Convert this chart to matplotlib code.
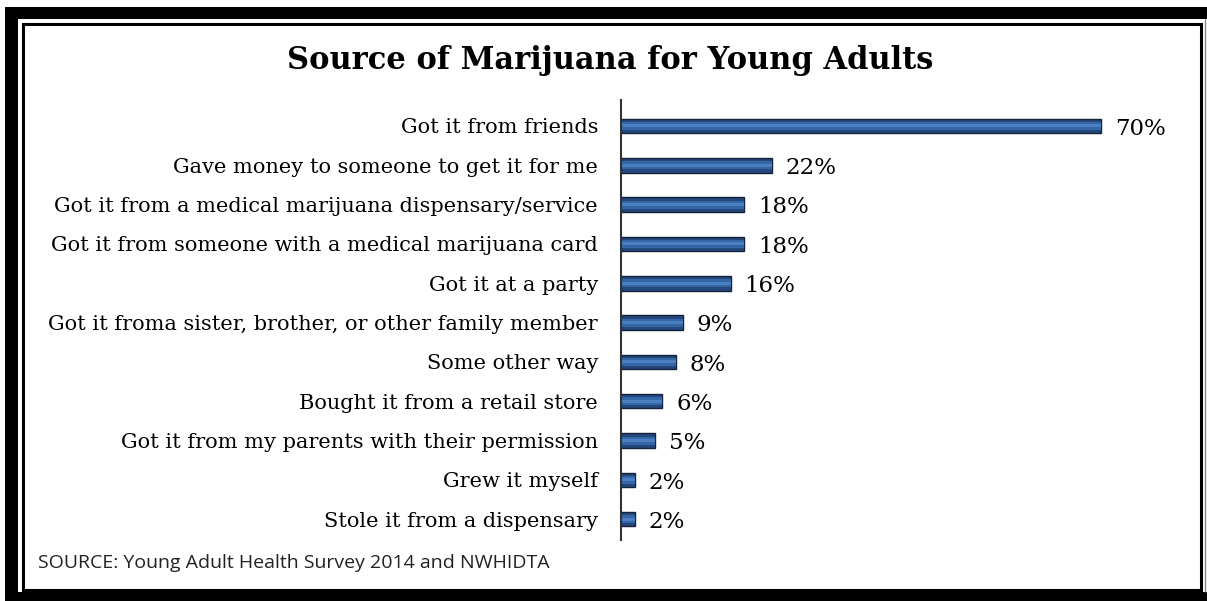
import matplotlib.pyplot as plt
from matplotlib.patches import Rectangle
import numpy as np

# data
sources = [
    "Got it from friends",
    "Gave money to someone to get it for me",
    "Got it from a medical marijuana dispensary/service",
    "Got it from someone with a medical marijuana card",
    "Got it at a party",
    "Got it froma sister, brother, or other family member",
    "Some other way",
    "Bought it from a retail store",
    "Got it from my parents with their permission",
    "Grew it myself",
    "Stole it from a dispensary",
]
percents = [70, 22, 18, 18, 16, 9, 8, 6, 5, 2, 2]

W, H = 1207, 601
fig = plt.figure(figsize=(W / 100, H / 100), dpi=100)


def px_rect(x0, y0, x1, y1, **kw):
    # pixel box (top-down) -> figure fraction rectangle
    return Rectangle((x0 / W, 1 - y1 / H), (x1 - x0) / W, (y1 - y0) / H,
                     transform=fig.transFigure, zorder=-1, **kw)


# double frame
fig.add_artist(px_rect(5, 7, 1207, 601, facecolor="black", edgecolor="none"))
fig.add_artist(px_rect(18, 19, 1207, 592, facecolor="white", edgecolor="none"))
fig.add_artist(px_rect(22.5, 23.5, 1200.5, 589.5, facecolor="none",
                       edgecolor="black", linewidth=2.2))
fig.add_artist(px_rect(1204.5, 19, 1204.5, 592, facecolor="none",
                       edgecolor="#888888", linewidth=1))

ax = fig.add_axes([621 / W, 1 - 540 / H, 526 / W, 440 / H])
ax.patch.set_alpha(0)

y = np.arange(len(sources))
h = 0.37
ax.barh(y, percents, height=h, color="#24477c", edgecolor="#14233d", linewidth=1)
ax.barh(y, percents, height=h * 0.55, color="#3566a8", linewidth=0)
ax.barh(y, percents, height=h * 0.2, color="#4a7fc2", linewidth=0)

for yi, v in zip(y, percents):
    ax.annotate(f"{v}%", (v, yi), xytext=(10, -2), textcoords="offset points",
                va="center", ha="left", fontsize=16.5, family="DejaVu Serif")

ax.set_xlim(0, 76.7)
ax.set_ylim(10.53, -0.66)
ax.set_yticks(y)
ax.set_yticklabels(sources, fontsize=15, family="DejaVu Serif")
ax.tick_params(axis="y", length=0, pad=16.5)
ax.set_xticks([])
for s in ["top", "right", "bottom"]:
    ax.spines[s].set_visible(False)
ax.spines["left"].set_color("#333333")
ax.spines["left"].set_linewidth(1.5)

fig.text(610 / W, 1 - 60 / H, "Source of Marijuana for Young Adults",
         ha="center", va="center", fontsize=22, fontweight="bold",
         family="DejaVu Serif")
fig.text(38 / W, 1 - 563 / H, "SOURCE: Young Adult Health Survey 2014 and NWHIDTA",
         ha="left", va="center", fontsize=14, family="Open Sans", color="#222222")

fig.savefig("out.png", dpi=100)
